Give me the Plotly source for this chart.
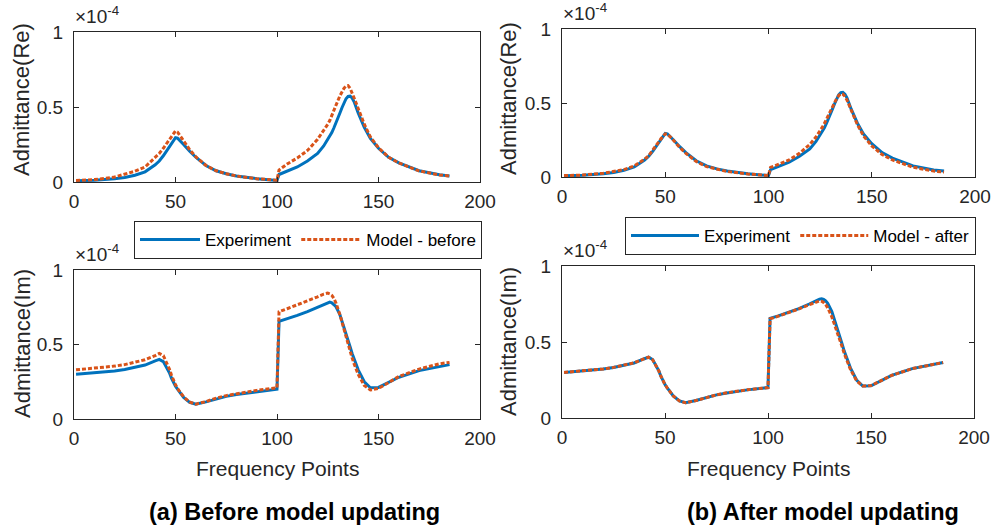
import plotly.graph_objects as go

W, H = 995, 531

# Frequency points (shared by all series)
freq = ([1, 10, 20, 25, 30, 35, 40, 42, 44, 46]
        + [47, 48, 49, 50, 51, 52, 53, 54]
        + [57, 60, 65, 70, 75, 80, 90, 100]
        + [101, 105, 110, 115, 120]
        + [123, 124, 125, 126, 127, 128, 129]
        + [131, 132, 133, 134, 135, 136, 137, 138]
        + [140, 143, 146, 150, 155, 160, 170, 180, 185])

# Values in units of 1e-4
exp_re = ([0.008, 0.012, 0.022, 0.030, 0.045, 0.068, 0.115, 0.140, 0.175, 0.215]
          + [0.238, 0.260, 0.282, 0.295, 0.292, 0.280, 0.266, 0.250]
          + [0.205, 0.165, 0.110, 0.075, 0.055, 0.040, 0.022, 0.010]
          + [0.050, 0.070, 0.100, 0.140, 0.190]
          + [0.240, 0.262, 0.285, 0.307, 0.330, 0.360, 0.390]
          + [0.460, 0.495, 0.525, 0.555, 0.570, 0.572, 0.560, 0.535]
          + [0.460, 0.365, 0.290, 0.225, 0.165, 0.128, 0.075, 0.048, 0.040])
model_before_re = ([0.010, 0.016, 0.033, 0.050, 0.072, 0.100, 0.165, 0.190, 0.225, 0.265]
                   + [0.285, 0.305, 0.325, 0.340, 0.333, 0.315, 0.296, 0.275]
                   + [0.215, 0.168, 0.110, 0.075, 0.055, 0.040, 0.022, 0.012]
                   + [0.080, 0.120, 0.160, 0.210, 0.285]
                   + [0.340, 0.362, 0.385, 0.410, 0.440, 0.475, 0.510]
                   + [0.575, 0.602, 0.625, 0.640, 0.643, 0.625, 0.595, 0.560]
                   + [0.490, 0.385, 0.300, 0.228, 0.165, 0.127, 0.074, 0.047, 0.040])
model_after_re = ([0.010, 0.013, 0.025, 0.035, 0.050, 0.075, 0.120, 0.145, 0.180, 0.220]
                  + [0.240, 0.260, 0.280, 0.292, 0.289, 0.278, 0.264, 0.248]
                  + [0.200, 0.160, 0.105, 0.070, 0.051, 0.037, 0.020, 0.010]
                  + [0.065, 0.085, 0.115, 0.160, 0.220]
                  + [0.270, 0.290, 0.310, 0.335, 0.360, 0.390, 0.420]
                  + [0.480, 0.505, 0.530, 0.550, 0.562, 0.560, 0.545, 0.520]
                  + [0.450, 0.355, 0.278, 0.210, 0.152, 0.115, 0.066, 0.040, 0.033])
exp_im = ([0.300, 0.310, 0.322, 0.332, 0.345, 0.362, 0.390, 0.400, 0.385, 0.340]
          + [0.310, 0.275, 0.245, 0.220, 0.200, 0.180, 0.162, 0.145]
          + [0.112, 0.100, 0.115, 0.135, 0.152, 0.165, 0.185, 0.200]
          + [0.655, 0.672, 0.695, 0.720, 0.750]
          + [0.770, 0.777, 0.782, 0.784, 0.780, 0.770, 0.755]
          + [0.700, 0.660, 0.620, 0.575, 0.530, 0.485, 0.440, 0.400]
          + [0.330, 0.250, 0.210, 0.212, 0.245, 0.280, 0.325, 0.355, 0.365])
model_before_im = ([0.330, 0.340, 0.355, 0.365, 0.380, 0.398, 0.425, 0.440, 0.425, 0.370]
                   + [0.335, 0.295, 0.260, 0.230, 0.205, 0.185, 0.165, 0.148]
                   + [0.113, 0.100, 0.117, 0.140, 0.157, 0.170, 0.192, 0.210]
                   + [0.720, 0.740, 0.765, 0.790, 0.820]
                   + [0.838, 0.844, 0.845, 0.840, 0.830, 0.810, 0.780]
                   + [0.700, 0.650, 0.600, 0.550, 0.500, 0.455, 0.410, 0.370]
                   + [0.300, 0.225, 0.195, 0.205, 0.245, 0.285, 0.335, 0.370, 0.380])
model_after_im = ([0.300, 0.310, 0.322, 0.333, 0.346, 0.363, 0.390, 0.400, 0.383, 0.340]
                  + [0.310, 0.275, 0.245, 0.220, 0.200, 0.180, 0.162, 0.145]
                  + [0.112, 0.100, 0.115, 0.135, 0.152, 0.166, 0.186, 0.200]
                  + [0.652, 0.670, 0.693, 0.718, 0.745]
                  + [0.762, 0.768, 0.770, 0.768, 0.760, 0.745, 0.725]
                  + [0.665, 0.628, 0.590, 0.550, 0.510, 0.468, 0.425, 0.385]
                  + [0.320, 0.245, 0.210, 0.213, 0.245, 0.280, 0.325, 0.353, 0.365])

x_ticks = [0, 50, 100, 150, 200]
y_ticks = [0, 0.5, 1]
y_tick_text = ["0", "0.5", "1"]

BLUE = "#0072BD"
ORANGE = "#D95319"
AX = "#262626"
FONT = "Liberation Sans, Arial, sans-serif"


def px_x(p):
    return p / W


def px_y(p):
    return 1 - p / H


# axes boxes in pixels: (left, right, top, bottom)
boxes = {
    1: (74, 480, 32, 182),
    2: (74, 480, 270, 419),
    3: (562, 975, 29, 177),
    4: (562, 974, 266, 418),
}

fig = go.Figure()

panels = [
    (1, exp_re, model_before_re, "Model - before", "legend", True),
    (2, exp_im, model_before_im, "Model - before", "legend", False),
    (3, exp_re, model_after_re, "Model - after", "legend2", True),
    (4, exp_im, model_after_im, "Model - after", "legend2", False),
]

for idx, e, m, mname, leg, show in panels:
    xa = "x" if idx == 1 else f"x{idx}"
    ya = "y" if idx == 1 else f"y{idx}"
    fig.add_trace(go.Scatter(x=freq, y=e, mode="lines", name="Experiment",
                             line=dict(color=BLUE, width=3), xaxis=xa, yaxis=ya,
                             legend=leg, showlegend=show))
    fig.add_trace(go.Scatter(x=freq, y=m, mode="lines", name=mname,
                             line=dict(color=ORANGE, width=3, dash="4px,2px"), xaxis=xa, yaxis=ya,
                             legend=leg, showlegend=show))

layout = dict(
    width=W, height=H, margin=dict(l=0, r=0, t=0, b=0, pad=0, autoexpand=False),
    paper_bgcolor="white", plot_bgcolor="white",
    font=dict(family=FONT, color=AX),
)

for idx, (l, r, t, b) in boxes.items():
    xk = "xaxis" if idx == 1 else f"xaxis{idx}"
    yk = "yaxis" if idx == 1 else f"yaxis{idx}"
    ya = "y" if idx == 1 else f"y{idx}"
    xa = "x" if idx == 1 else f"x{idx}"
    common = dict(showline=True, linecolor=AX, linewidth=1, mirror="ticks", ticks="inside",
                  ticklen=5, tickcolor=AX, tickwidth=1, showgrid=False, zeroline=False,
                  automargin=False,
                  tickfont=dict(size=19, family=FONT, color=AX))
    layout[xk] = dict(domain=[px_x(l), px_x(r)], range=[0, 200], tickvals=x_ticks,
                      anchor=ya, ticklabelstandoff=2, **common)
    layout[yk] = dict(domain=[px_y(b), px_y(t)], range=[0, 1], tickvals=y_ticks,
                      ticktext=y_tick_text, anchor=xa, ticklabelstandoff=6, **common)

layout["legend"] = dict(x=px_x(482), xanchor="right", y=px_y(221), yanchor="top",
                        orientation="h", bordercolor=AX, borderwidth=1, bgcolor="white",
                        itemwidth=60, tracegroupgap=0,
                        font=dict(size=17, family=FONT, color="#000000"))
layout["legend2"] = dict(x=px_x(976), xanchor="right", y=px_y(217), yanchor="top",
                         orientation="h", bordercolor=AX, borderwidth=1, bgcolor="white",
                         itemwidth=68, tracegroupgap=0,
                         font=dict(size=17, family=FONT, color="#000000"))

annotations = []
# multiplier labels
for idx, (l, r, t, b) in boxes.items():
    annotations.append(dict(text="×10<sup>-4</sup>", x=px_x(l), y=px_y(t - 4), xref="paper",
                            yref="paper", xanchor="left", yanchor="bottom", showarrow=False,
                            borderpad=0,
                            font=dict(size=19, family=FONT, color=AX)))
# y titles
ytitles = {1: "Admittance(Re)", 2: "Admittance(Im)", 3: "Admittance(Re)", 4: "Admittance(Im)"}
ycenters = {1: 100, 2: 344, 3: 98, 4: 341}
for idx, (l, r, t, b) in boxes.items():
    xc = 22 if l < 300 else 508
    annotations.append(dict(text=ytitles[idx], x=px_x(xc), y=px_y(ycenters[idx]), xref="paper",
                            yref="paper", xanchor="center", yanchor="middle", textangle=-90,
                            showarrow=False, font=dict(size=22, family=FONT, color=AX)))
# x titles
for idx in (2, 4):
    l, r, t, b = boxes[idx]
    annotations.append(dict(text="Frequency Points", x=px_x((l + r) / 2), y=px_y(468),
                            xref="paper", yref="paper", xanchor="center", yanchor="middle",
                            showarrow=False, font=dict(size=21, family=FONT, color=AX)))
# captions
annotations.append(dict(text="<b>(a) Before model updating</b>", x=px_x(294), y=px_y(512),
                        xref="paper", yref="paper", xanchor="center", yanchor="middle",
                        showarrow=False, font=dict(size=23.5, family=FONT, color="#000000")))
annotations.append(dict(text="<b>(b) After model updating</b>", x=px_x(823), y=px_y(512),
                        xref="paper", yref="paper", xanchor="center", yanchor="middle",
                        showarrow=False, font=dict(size=23.5, family=FONT, color="#000000")))
layout["annotations"] = annotations

fig.update_layout(**layout)
fig.write_html("out.html", config={"displayModeBar": False},
               post_script="document.body.style.margin='0';document.body.style.overflow='hidden';")
